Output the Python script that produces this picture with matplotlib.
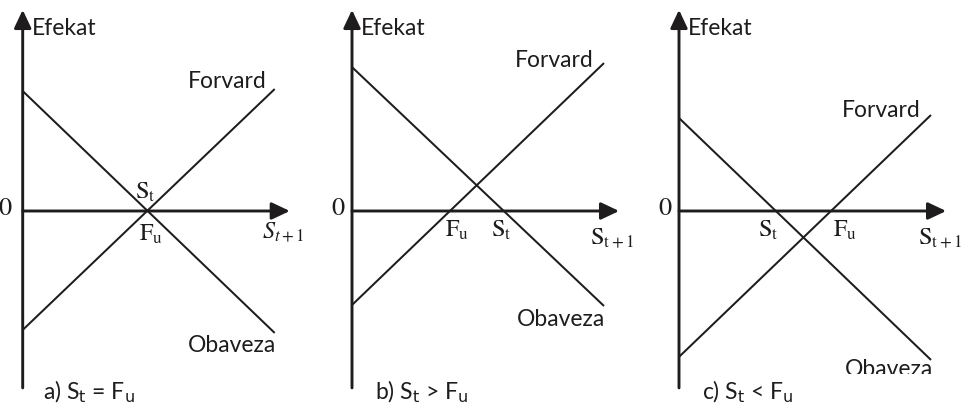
import matplotlib
matplotlib.use("Agg")
import matplotlib.pyplot as plt
from matplotlib.patches import Rectangle
import numpy as np

plt.rcParams['mathtext.fontset'] = 'stix'

# ---- data (effect values at S_{t+1} = 0 and S_{t+1} = x_end) ----
panels = ['a', 'b', 'c']
x_end = [10.0, 10.0, 10.0]
obaveza_start = [4.76, 5.71, 3.69]
obaveza_end = [-4.84, -3.77, -5.91]
forvard_start = [-4.72, -3.73, -5.79]
forvard_end = [4.84, 5.87, 3.81]
captions = [r'a) S$_\mathrm{t}$ = F$_\mathrm{u}$',
            r'b) S$_\mathrm{t}$ > F$_\mathrm{u}$',
            r'c) S$_\mathrm{t}$ < F$_\mathrm{u}$']
xlabels = [r'$S_{t+1}$', r'$\mathrm{S}_{\mathrm{t+1}}$', r'$\mathrm{S}_{\mathrm{t+1}}$']

# ---- layout ----
W, H = 961, 405
S = 25.2                  # pixels per unit
origin_px = [22.7, 352, 679]
origin_py = 211
y_axis_top, y_axis_bot = 7.98, -7.02
x_axis_end = 10.6
ink = '#1e1c1d'
sans = 'Lato'
fs_txt = 16.5
fs_math = 17.5

fig = plt.figure(figsize=(W / 100, H / 100), dpi=100)


def px2x(px, ox):
    return (px - ox) / S


def py2y(py):
    return (origin_py - py) / S


for i in range(3):
    ox = origin_px[i]
    ax = fig.add_axes([0, 0, 1, 1])
    ax.set_xlim(-ox / S, (W - ox) / S)
    ax.set_ylim(-(H - origin_py) / S, origin_py / S)
    ax.axis('off')
    ax.patch.set_alpha(0)

    arrow = dict(arrowstyle='-|>,head_length=0.55,head_width=0.26', lw=2.1,
                 color=ink, shrinkA=0, shrinkB=0, mutation_scale=20)
    ax.annotate('', xy=(0, y_axis_top), xytext=(0, y_axis_bot), arrowprops=arrow)
    ax.annotate('', xy=(x_axis_end, 0), xytext=(0, 0), arrowprops=arrow)

    xs = np.array([0.0, x_end[i]])
    ax.plot(xs, [obaveza_start[i], obaveza_end[i]], color=ink, lw=1.45,
            solid_capstyle='butt')
    ax.plot(xs, [forvard_start[i], forvard_end[i]], color=ink, lw=1.45,
            solid_capstyle='butt')

    ob_zero = obaveza_start[i] * x_end[i] / (obaveza_start[i] - obaveza_end[i])
    fw_zero = -forvard_start[i] * x_end[i] / (forvard_end[i] - forvard_start[i])

    ax.text(px2x(ox + 9, ox), py2y(28), 'Efekat', family=sans, fontsize=fs_txt,
            color=ink, ha='left', va='center')
    ax.text(-0.56 if i else -0.68, 0.1, r'$0$', fontsize=fs_math + 1.5, color=ink,
            ha='center', va='center')

    if i == 0:
        ax.text(px2x(188, ox), py2y(82), 'Forvard', family=sans, fontsize=fs_txt,
                color=ink, ha='left', va='center')
        ax.text(px2x(188, ox), py2y(345), 'Obaveza', family=sans, fontsize=fs_txt,
                color=ink, ha='left', va='center')
        ax.text(ob_zero - 0.1, py2y(192), r'$\mathrm{S}_\mathrm{t}$', fontsize=fs_math,
                color=ink, ha='center', va='center')
        ax.text(fw_zero + 0.15, py2y(234), r'$\mathrm{F}_\mathrm{u}$', fontsize=fs_math,
                color=ink, ha='center', va='center')
        ax.text(px2x(262, ox), py2y(232), xlabels[i], fontsize=fs_math, color=ink,
                ha='left', va='center')
    elif i == 1:
        ax.text(px2x(515, ox), py2y(60), 'Forvard', family=sans, fontsize=fs_txt,
                color=ink, ha='left', va='center')
        ax.text(px2x(517, ox), py2y(320), 'Obaveza', family=sans, fontsize=fs_txt,
                color=ink, ha='left', va='center')
        ax.text(fw_zero + 0.3, py2y(230), r'$\mathrm{F}_\mathrm{u}$', fontsize=fs_math,
                color=ink, ha='center', va='center')
        ax.text(ob_zero - 0.08, py2y(230), r'$\mathrm{S}_\mathrm{t}$', fontsize=fs_math,
                color=ink, ha='center', va='center')
        ax.text(px2x(590, ox), py2y(238), xlabels[i], fontsize=fs_math, color=ink,
                ha='left', va='center')
    else:
        ax.text(px2x(842, ox), py2y(110), 'Forvard', family=sans, fontsize=fs_txt,
                color=ink, ha='left', va='center')
        ax.text(px2x(845, ox), py2y(369), 'Obaveza', family=sans, fontsize=fs_txt,
                color=ink, ha='left', va='center')
        # the reference crops the bottom of this label
        ax.add_patch(Rectangle((px2x(838, ox), py2y(381)), 105 / S, 7 / S,
                               facecolor='white', edgecolor='none', zorder=10))
        ax.text(ob_zero - 0.3, py2y(230), r'$\mathrm{S}_\mathrm{t}$', fontsize=fs_math,
                color=ink, ha='center', va='center')
        ax.text(fw_zero + 0.55, py2y(230), r'$\mathrm{F}_\mathrm{u}$', fontsize=fs_math,
                color=ink, ha='center', va='center')
        ax.text(px2x(918, ox), py2y(238), xlabels[i], fontsize=fs_math, color=ink,
                ha='left', va='center')

    cap_left = [43, 375, 702][i]
    ax.text(px2x(cap_left, ox), py2y(392), captions[i], family=sans, fontsize=fs_txt,
            color=ink, ha='left', va='center', math_fontfamily='dejavusans')

fig.savefig('out.png', dpi=100)
